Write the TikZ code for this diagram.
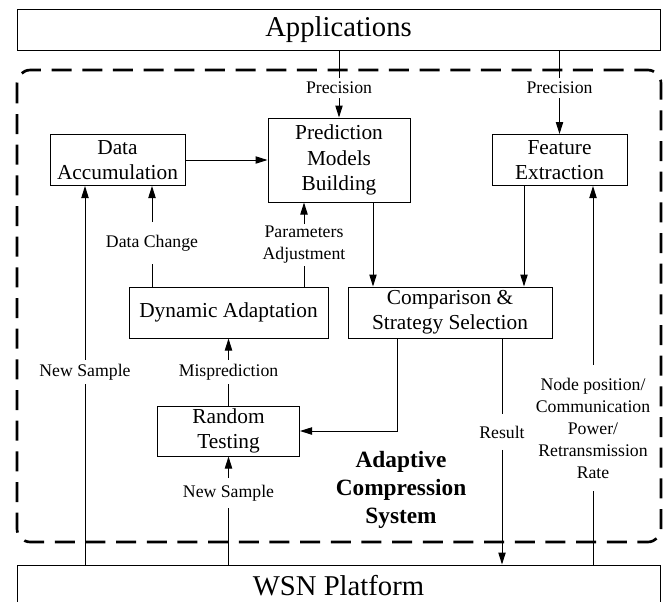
\documentclass[tikz,border=0pt]{standalone}
\usepackage{fontspec}
\setmainfont{Liberation Serif}
\usetikzlibrary{arrows.meta}
\newcommand{\acsblk}[6]{%
  \node[blk, minimum width=#4*0.75pt, minimum height=#5*0.75pt] (#1) at (#2,#3) {#6};}

\begin{document}
\begin{tikzpicture}[x=0.75pt, y=-0.75pt,
  blk/.style={draw, line width=0.75pt, align=center, inner sep=0pt, font=\fontsize{16}{19}\selectfont},
  lbl/.style={align=center, inner xsep=1pt, inner ysep=3pt, font=\fontsize{13.3}{16.5}\selectfont},
  ln/.style={line width=0.75pt},
  arr/.style={line width=0.75pt, -{Triangle[length=9pt, width=5.5pt]}}]
\useasboundingbox (0,0) rectangle (663,601);
% outer layers
\acsblk{apps}{338.5}{29.5}{643}{41}{\fontsize{21.5}{25}\selectfont Applications}
\acsblk{wsn}{338.5}{585.5}{643}{41}{\fontsize{21.5}{25}\selectfont WSN Platform}
\draw[line width=2pt, dash pattern=on 15pt off 8pt, rounded corners=10pt] (17,70) rectangle (661,542);
% blocks
\acsblk{acc}{117.5}{160}{135}{51}{Data\\Accumulation}
\acsblk{pmb}{339}{160}{142}{84}{Prediction\\Models\\Building}
\acsblk{fex}{559.5}{160}{135}{51}{Feature\\Extraction}
\acsblk{dyn}{228.5}{312.5}{199}{51}{Dynamic Adaptation}
\acsblk{cmp}{450}{312.5}{204}{51}{Comparison \&\\Strategy Selection}
\acsblk{rnd}{228.5}{431}{142}{50}{Random\\Testing}
% labels
\node[lbl] (precA) at (339,88) {Precision};
\node[lbl] (precB) at (559.5,88) {Precision};
\node[lbl, inner ysep=9.4pt] (dchg) at (152,243) {Data Change};
\node[lbl, inner ysep=1.5pt] (padj) at (304,245) {Parameters\\Adjustment};
\node[lbl] (nsA) at (85,372) {New Sample};
\node[lbl] (mispred) at (228.5,372) {Misprediction};
\node[lbl, inner ysep=5pt] (nsB) at (228.5,493) {New Sample};
\node[lbl, inner ysep=8.5pt] (result) at (502,432) {Result};
\node[lbl, inner ysep=9.5pt] (nodepos) at (593,428) {Node position/\\Communication\\Power/\\Retransmission\\Rate};
\node[font=\fontsize{17.5}{21}\selectfont\bfseries, align=center] (acs) at (401,490) {Adaptive\\Compression\\System};
% applications down
\draw[ln] (apps.south -| precA) -- (precA.north);
\draw[arr] (precA.south) -- (pmb.north);
\draw[ln] (apps.south -| precB) -- (precB.north);
\draw[arr] (precB.south) -- (fex.north);
% inner flow
\draw[arr] (acc.east) -- (pmb.west);
\draw[arr] (373,0 |- pmb.south) -- (373,0 |- cmp.north);
\draw[arr] (524,0 |- fex.south) -- (524,0 |- cmp.north);
\draw[ln] (dchg |- dyn.north) -- (dchg.south);
\draw[arr] (dchg.north) -- (dchg |- acc.south);
\draw[ln] (padj |- dyn.north) -- (padj.south);
\draw[arr] (padj.north) -- (padj |- pmb.south);
\draw[ln] (rnd.north) -- (mispred.south);
\draw[arr] (mispred.north) -- (dyn.south);
\draw[arr] (397,0 |- cmp.south) |- (rnd.east);
\draw[ln] (result |- cmp.south) -- (result.north);
\draw[arr] (result.south) -- (result |- wsn.north);
% from platform
\draw[ln] (nsA |- wsn.north) -- (nsA.south);
\draw[arr] (nsA.north) -- (nsA |- acc.south);
\draw[ln] (nsB |- wsn.north) -- (nsB.south);
\draw[arr] (nsB.north) -- (rnd.south);
\draw[ln] (nodepos |- wsn.north) -- (nodepos.south);
\draw[arr] (nodepos.north) -- (nodepos |- fex.south);
\end{tikzpicture}
\end{document}
